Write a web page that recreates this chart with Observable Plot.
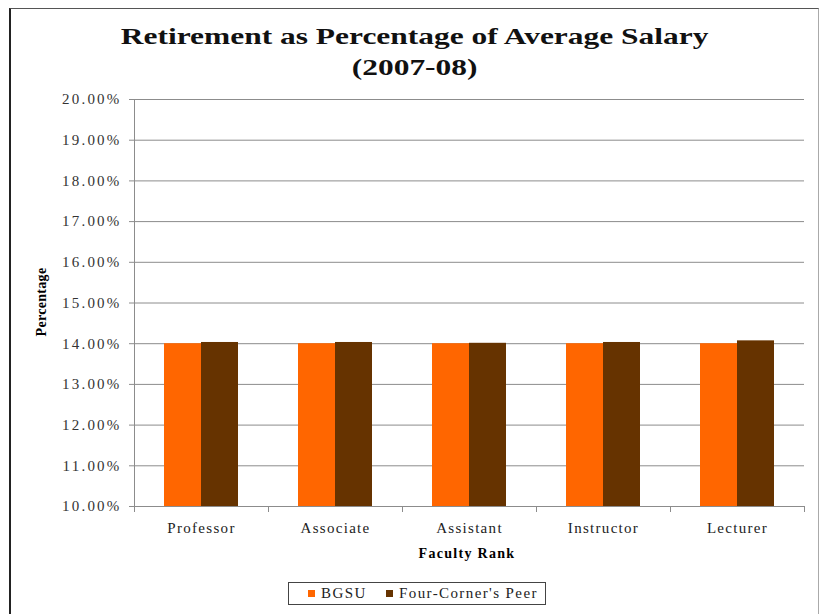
<!DOCTYPE html>
<html>
<head>
<meta charset="utf-8">
<script src="https://cdn.jsdelivr.net/npm/d3@7"></script>
<script src="https://cdn.jsdelivr.net/npm/@observablehq/plot@0.6"></script>
<style>
  html, body { margin: 0; padding: 0; background: #fff; }
  #wrap { position: relative; width: 821px; height: 614px; overflow: hidden; font-family: "Liberation Serif", "DejaVu Serif", serif; }
  #border { position: absolute; left: 9px; top: 8px; width: 810px; height: 620px; border-left: 2px solid #222; border-top: 1px solid #555; border-right: 1px solid #aaa; box-sizing: border-box; }
  #title { position: absolute; left: 4px; top: 21px; width: 821px; text-align: center; font-weight: bold; font-size: 24px; line-height: 31px; color: #111; transform: scaleX(1.31); transform-origin: 410px 0; }
  #chart { position: absolute; left: 0; top: 0; }
  #chart svg text { font-family: "Liberation Serif", serif; }
  #chart g[aria-label="y-axis tick label"] text { letter-spacing: 2.2px; }
  #chart g[aria-label="fx-axis tick label"] text { letter-spacing: 1.3px; }
  #ytitle { position: absolute; left: 42px; top: 302px; transform: translate(-50%, -50%) rotate(-90deg); font-weight: bold; font-size: 14px; letter-spacing: 0.3px; white-space: nowrap; }
  #xtitle { position: absolute; left: 467px; top: 546px; transform: translateX(-50%); font-weight: bold; font-size: 14px; letter-spacing: 1.3px; white-space: nowrap; }
  #legend { position: absolute; left: 288px; top: 582px; width: 258px; height: 23px; border: 1px solid #444; box-sizing: border-box; font-family: "Liberation Serif", serif; font-size: 15px; color: #222; }
  .li { position: absolute; top: 2px; white-space: nowrap; letter-spacing: 1.4px; }
  .sw { display: inline-block; width: 7px; height: 7px; margin-right: 6px; vertical-align: 1px; }
</style>
</head>
<body>
<div id="wrap">
  <div id="border"></div>
  <div id="title">Retirement as Percentage of Average Salary<br>(2007-08)</div>
  <div id="chart"></div>
  <div id="ytitle">Percentage</div>
  <div id="xtitle">Faculty Rank</div>
  <div id="legend"></div>
</div>
<script>
const ranks = ["Professor", "Associate", "Assistant", "Instructor", "Lecturer"];
const series = ["BGSU", "Four-Corner's Peer"];
const bgsu = [14.00, 14.00, 14.00, 14.00, 14.00];
const peer = [14.03, 14.03, 14.01, 14.03, 14.07];
const colors = ["#FF6600", "#663300"];
const yTicks = [10, 11, 12, 13, 14, 15, 16, 17, 18, 19, 20];

const data = [];
ranks.forEach((r, i) => {
  data.push({rank: r, series: series[0], value: bgsu[i]});
  data.push({rank: r, series: series[1], value: peer[i]});
});

const serif = "Liberation Serif";
const plotH = 614 - 99 - 108;

const chart = Plot.plot({
  width: 821,
  height: 614,
  marginLeft: 133,
  marginRight: 17,
  marginTop: 99,
  marginBottom: 108,
  style: {fontFamily: serif, background: "transparent"},
  fx: {domain: ranks, padding: 0, label: null},
  x: {domain: series, paddingInner: 0, paddingOuter: 0.77, axis: null},
  y: {domain: [10, 20], label: null},
  color: {domain: series, range: colors},
  marks: [
    Plot.gridY(yTicks, {stroke: "#8c8c8c", strokeOpacity: 1, strokeWidth: 1}),
    Plot.barY(data, {fx: "rank", x: "series", y1: 10, y2: "value", fill: "series"}),
    Plot.ruleY([10], {stroke: "#8c8c8c", strokeWidth: 1}),
    Plot.frame({anchor: "left", facetAnchor: "left", stroke: "#8c8c8c"}),
    // category-boundary tick marks below the axis
    Plot.frame({anchor: "left", insetTop: plotH, insetBottom: -5, stroke: "#8c8c8c"}),
    Plot.frame({anchor: "right", facetAnchor: "right", insetTop: plotH, insetBottom: -5, stroke: "#8c8c8c"}),
    Plot.axisY({ticks: yTicks, tickFormat: d => d.toFixed(2) + "%", tickSize: 5, tickPadding: 8, stroke: "#8c8c8c", fill: "#333", fontSize: 15, fontFamily: serif, label: null}),
    Plot.axisFx({anchor: "bottom", tickSize: 0, tickPadding: 16, fontSize: 15, fontFamily: serif, fill: "#222", label: null})
  ]
});
document.getElementById("chart").appendChild(chart);

const legend = document.getElementById("legend");
const lx = [19, 97];
series.forEach((s, i) => {
  const item = document.createElement("div");
  item.className = "li";
  item.style.left = lx[i] + "px";
  item.innerHTML = `<span class="sw" style="background:${colors[i]}"></span>${s}`;
  legend.appendChild(item);
});
</script>
</body>
</html>
